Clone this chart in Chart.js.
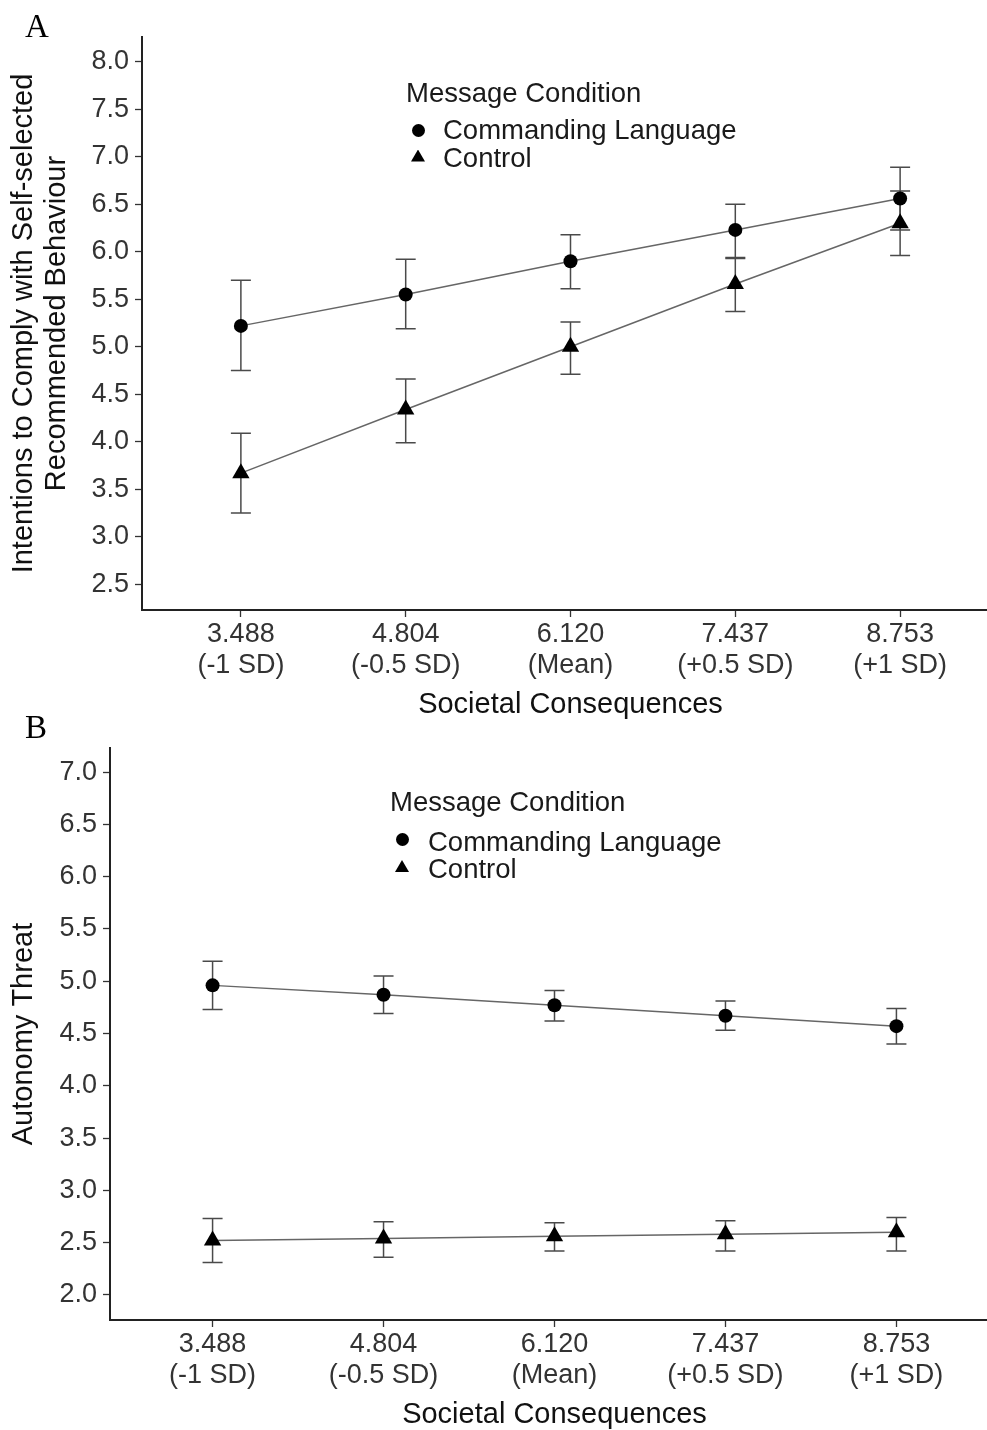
<!DOCTYPE html>
<html>
<head>
<meta charset="utf-8">
<script src="https://cdn.jsdelivr.net/npm/chart.js@4.4.1/dist/chart.umd.min.js"></script>
<style>
html,body{margin:0;padding:0;width:987px;height:1430px;overflow:hidden;background:#fff;}
#wrap{position:relative;width:987px;height:1430px;overflow:hidden;}
canvas{position:absolute;left:0;}
.lbl{position:absolute;font-family:"Liberation Serif","Times New Roman",serif;font-size:33px;line-height:33px;color:#000;}
.lg{position:absolute;font-family:"Liberation Sans",Arial,sans-serif;font-size:27.5px;line-height:27.5px;color:#1a1a1a;white-space:nowrap;}
.dot{position:absolute;width:13px;height:13px;border-radius:50%;background:#000;}
.tri{position:absolute;width:14px;height:12px;background:#000;clip-path:polygon(50% 0,100% 100%,0 100%);}
</style>
</head>
<body>
<div id="wrap">
  <canvas id="chartA" width="1000" height="722" style="top:0;width:1000px;height:722px;"></canvas>
  <canvas id="chartB" width="1000" height="710" style="top:722px;width:1000px;height:710px;"></canvas>

  <div class="lbl" style="left:25px;top:9.7px;">A</div>
  <div class="lbl" style="left:25px;top:711.4px;">B</div>

  <div class="lg" style="left:406px;top:78.7px;">Message Condition</div>
  <div class="dot" style="left:411.5px;top:123.5px;"></div>
  <div class="lg" style="left:443px;top:116.2px;">Commanding Language</div>
  <div class="tri" style="left:411px;top:149.5px;"></div>
  <div class="lg" style="left:443px;top:144.2px;">Control</div>

  <div class="lg" style="left:390px;top:788.2px;">Message Condition</div>
  <div class="dot" style="left:395.5px;top:833.2px;"></div>
  <div class="lg" style="left:428px;top:827.7px;">Commanding Language</div>
  <div class="tri" style="left:395px;top:860px;"></div>
  <div class="lg" style="left:428px;top:854.7px;">Control</div>
</div>
<script>
// ---- data ----
const xValues = ['3.488', '4.804', '6.120', '7.437', '8.753'];
const xSdLabels = ['(-1 SD)', '(-0.5 SD)', '(Mean)', '(+0.5 SD)', '(+1 SD)'];
const seriesNames = ['Commanding Language', 'Control'];

// Panel A: Intentions to comply
const cmdA     = [5.22, 5.55, 5.90, 6.23, 6.56];
const cmdALow  = [4.75, 5.19, 5.61, 5.94, 6.23];
const cmdAHigh = [5.70, 5.92, 6.18, 6.50, 6.89];
const ctlA     = [3.67, 4.34, 5.00, 5.66, 6.30];
const ctlALow  = [3.25, 3.99, 4.71, 5.37, 5.96];
const ctlAHigh = [4.09, 4.66, 5.26, 5.93, 6.64];
const yTicksA  = [2.5, 3.0, 3.5, 4.0, 4.5, 5.0, 5.5, 6.0, 6.5, 7.0, 7.5, 8.0];

// Panel B: Autonomy threat
const cmdB     = [4.96, 4.87, 4.77, 4.67, 4.57];
const cmdBLow  = [4.73, 4.69, 4.62, 4.53, 4.40];
const cmdBHigh = [5.19, 5.05, 4.91, 4.81, 4.74];
const ctlB     = [2.52, 2.54, 2.56, 2.58, 2.60];
const ctlBLow  = [2.31, 2.36, 2.42, 2.42, 2.42];
const ctlBHigh = [2.73, 2.70, 2.69, 2.71, 2.74];
const yTicksB  = [2.0, 2.5, 3.0, 3.5, 4.0, 4.5, 5.0, 5.5, 6.0, 6.5, 7.0];

// ---- styling ----
const FAMILY = '"Liberation Sans", Arial, sans-serif';

const errorBars = {
  id: 'errorBars',
  beforeDatasetsDraw(chart) {
    const {ctx, scales: {x, y}} = chart;
    ctx.save();
    ctx.strokeStyle = '#4a4a4a';
    ctx.lineWidth = 1.5;
    chart.data.datasets.forEach(ds => {
      if (!ds.errLow) return;
      ds.errLow.forEach((lo, i) => {
        const px = x.getPixelForValue(i + 1);
        const yl = y.getPixelForValue(lo);
        const yh = y.getPixelForValue(ds.errHigh[i]);
        ctx.beginPath();
        ctx.moveTo(px, yl); ctx.lineTo(px, yh);
        ctx.moveTo(px - 10, yl); ctx.lineTo(px + 10, yl);
        ctx.moveTo(px - 10, yh); ctx.lineTo(px + 10, yh);
        ctx.stroke();
      });
    });
    ctx.restore();
  }
};

function toPoints(arr) { return arr.map((v, i) => ({x: i + 1, y: v})); }

function makeChart(id, cfg) {
  const axisCommon = {
    grid: {display: true, drawOnChartArea: false, drawTicks: true, tickLength: 7, tickColor: '#333', tickWidth: 1.3},
    border: {display: true, color: '#222', width: 2}
  };
  return new Chart(document.getElementById(id), {
    type: 'line',
    data: {
      datasets: [
        {
          label: seriesNames[0], data: toPoints(cfg.cmd), errLow: cfg.cmdLow, errHigh: cfg.cmdHigh,
          borderColor: '#666', borderWidth: 1.5, tension: 0, fill: false,
          pointStyle: 'circle', pointRadius: 7, pointBackgroundColor: '#000', pointBorderWidth: 0
        },
        {
          label: seriesNames[1], data: toPoints(cfg.ctl), errLow: cfg.ctlLow, errHigh: cfg.ctlHigh,
          borderColor: '#666', borderWidth: 1.5, tension: 0, fill: false,
          pointStyle: 'triangle', pointRadius: 10, pointBackgroundColor: '#000', pointBorderWidth: 0
        }
      ]
    },
    options: {
      responsive: false,
      animation: false,
      events: [],
      layout: {autoPadding: false, padding: {top: cfg.padTop, right: 1, bottom: 0, left: 0}},
      plugins: {legend: {display: false}, tooltip: {enabled: false}},
      scales: {
        x: Object.assign({}, axisCommon, {
          type: 'linear', min: 0.4, max: 5.6,
          afterFit(s) { s.height = 112; },
          afterBuildTicks(s) { s.ticks = xValues.map((_, i) => ({value: i + 1})); },
          ticks: {
            autoSkip: false, maxRotation: 0, minRotation: 0, padding: 2, color: '#333',
            font: {family: FAMILY, size: 27, lineHeight: 1.156},
            callback: (v, i) => [xValues[i], xSdLabels[i]]
          },
          title: {
            display: true, text: 'Societal Consequences', color: '#111',
            font: {family: FAMILY, size: 29, lineHeight: 1.12}, padding: {top: 0, bottom: 1}
          }
        }),
        y: Object.assign({}, axisCommon, {
          type: 'linear', min: cfg.yMin, max: cfg.yMax,
          afterFit(s) { s.width = cfg.yWidth; },
          afterBuildTicks(s) { s.ticks = cfg.yTicks.map(v => ({value: v})); },
          ticks: {
            padding: 6, color: '#333',
            font: {family: FAMILY, size: 27},
            callback: v => Number(v).toFixed(1)
          },
          title: {
            display: true, text: cfg.yTitle, color: '#111',
            font: {family: FAMILY, size: 29, lineHeight: 1.12}, padding: {top: 8, bottom: 0}
          }
        })
      }
    },
    plugins: [errorBars]
  });
}

makeChart('chartA', {
  cmd: cmdA, cmdLow: cmdALow, cmdHigh: cmdAHigh,
  ctl: ctlA, ctlLow: ctlALow, ctlHigh: ctlAHigh,
  yTicks: yTicksA, yMin: 2.23, yMax: 8.26, yWidth: 142, padTop: 37,
  yTitle: ['Intentions to Comply with Self-selected', 'Recommended Behaviour']
});
makeChart('chartB', {
  cmd: cmdB, cmdLow: cmdBLow, cmdHigh: cmdBHigh,
  ctl: ctlB, ctlLow: ctlBLow, ctlHigh: ctlBHigh,
  yTicks: yTicksB, yMin: 1.76, yMax: 7.23, yWidth: 110, padTop: 26,
  yTitle: 'Autonomy Threat'
});
</script>
</body>
</html>
